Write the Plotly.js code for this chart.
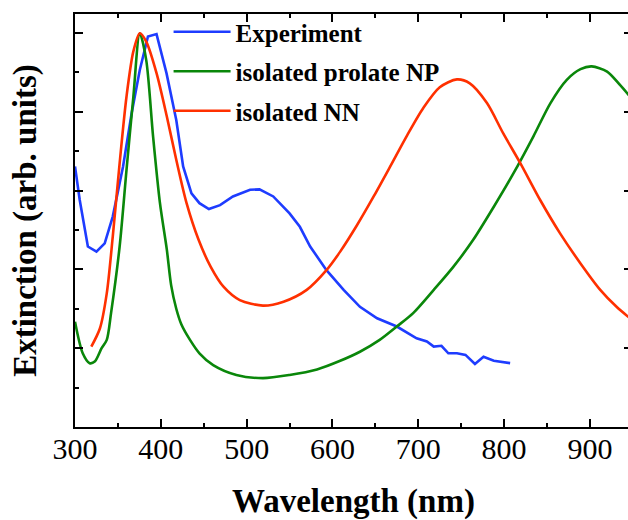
<!DOCTYPE html>
<html>
<head>
<meta charset="utf-8">
<script src="https://cdn.plot.ly/plotly-3.0.1.min.js"></script>
<style>
html,body{margin:0;padding:0;overflow:hidden;background:#fff;}
#chart{width:632px;height:520px;}
</style>
</head>
<body>
<div id="chart"></div>
<script>
// Experiment
const wlExp = [300, 305.5, 315, 325, 334.6, 344, 356, 366, 375.5, 385, 395, 406.6, 418, 426, 435.7, 445, 456, 469, 484, 504, 515, 531, 550, 562, 574, 593, 613, 632, 652, 675, 698, 710, 718, 727, 735, 745, 755, 766, 776, 788, 807];
const extExp = [0.661, 0.576, 0.458, 0.445, 0.466, 0.534, 0.661, 0.796, 0.906, 0.991, 0.997, 0.898, 0.779, 0.661, 0.593, 0.568, 0.553, 0.563, 0.585, 0.602, 0.603, 0.585, 0.542, 0.508, 0.458, 0.398, 0.348, 0.305, 0.276, 0.255, 0.225, 0.217, 0.204, 0.206, 0.187, 0.187, 0.183, 0.16, 0.178, 0.168, 0.162];
// isolated prolate NP
const wlNP = [300, 309, 317, 323, 331, 337, 342, 352, 360, 368, 375.5, 383, 391, 399, 407, 412, 418, 424, 434, 445, 461, 488, 519, 550, 582, 609, 632, 655, 675, 694, 718, 741, 764, 788, 811, 834, 854, 873, 889, 902, 920, 935, 950];
const extNP = [0.267, 0.187, 0.162, 0.166, 0.2, 0.221, 0.289, 0.458, 0.652, 0.838, 0.999, 0.931, 0.737, 0.568, 0.45, 0.36, 0.3, 0.26, 0.221, 0.187, 0.157, 0.132, 0.124, 0.132, 0.146, 0.168, 0.191, 0.221, 0.255, 0.289, 0.348, 0.407, 0.475, 0.559, 0.644, 0.737, 0.822, 0.881, 0.908, 0.915, 0.902, 0.868, 0.83];
// isolated NN
const wlNN = [319, 329, 337, 344, 352, 360, 368, 375.5, 383, 395, 407, 418, 430, 444, 458, 473, 492, 519, 543, 570, 593, 609, 628, 648, 667, 687, 706, 725, 745, 760, 780, 799, 819, 842, 865, 889, 912, 931, 950];
const extNN = [0.204, 0.25, 0.339, 0.483, 0.669, 0.838, 0.953, 0.999, 0.978, 0.898, 0.788, 0.678, 0.568, 0.475, 0.407, 0.356, 0.322, 0.308, 0.318, 0.348, 0.398, 0.445, 0.51, 0.585, 0.66, 0.74, 0.81, 0.862, 0.882, 0.872, 0.822, 0.745, 0.669, 0.576, 0.492, 0.415, 0.348, 0.305, 0.27];

const seriesNames = ['Experiment', 'isolated prolate NP', 'isolated NN'];
const xTickVals = [300, 400, 500, 600, 700, 800, 900];
const xTickText = ['300', '400', '500', '600', '700', '800', '900'];

const serif = 'Liberation Serif, Times New Roman, serif';

const traces = [
  {x: wlExp, y: extExp, name: seriesNames[0], legendgroup: 'a', mode: 'lines',
   line: {color: '#1e3cff', width: 2.6}},
  {x: wlNP, y: extNP, name: seriesNames[1], legendgroup: 'b', mode: 'lines',
   line: {color: '#0a870a', width: 2.6, shape: 'spline', smoothing: 0.8}},
  {x: wlNN, y: extNN, name: seriesNames[2], legendgroup: 'c', mode: 'lines',
   line: {color: '#ff3000', width: 2.6, shape: 'spline', smoothing: 0.8}}
];

const layout = {
  width: 632, height: 520,
  margin: {l: 75, r: 0, t: 14, b: 93},
  paper_bgcolor: '#fff', plot_bgcolor: '#fff',
  font: {family: serif, color: '#000'},
  showlegend: true,
  legend: {
    x: 0.168, y: 1.012, xanchor: 'left', yanchor: 'top',
    bgcolor: 'rgba(0,0,0,0)', borderwidth: 0,
    font: {family: serif, size: 25, color: '#000', weight: 'bold'},
    traceorder: 'grouped', tracegroupgap: 4, itemwidth: 57
  },
  xaxis: {
    range: [300, 949], showgrid: false, zeroline: false,
    showline: true, linecolor: '#000', linewidth: 2, mirror: 'ticks',
    ticks: 'inside', ticklen: 8, tickwidth: 2, tickcolor: '#000',
    tickmode: 'array', tickvals: xTickVals, ticktext: xTickText,
    minor: {dtick: 50, tick0: 0, ticks: 'inside', ticklen: 4, tickwidth: 2, tickcolor: '#000', showgrid: false},
    tickfont: {family: serif, size: 30, color: '#000'},
    ticklabelstandoff: -6,
    title: {text: 'Wavelength (nm)', font: {family: serif, size: 33, color: '#000', weight: 'bold'}, standoff: 41}
  },
  yaxis: {
    range: [0, 1.048], showgrid: false, zeroline: false,
    showline: true, linecolor: '#000', linewidth: 2, mirror: 'ticks',
    ticks: 'inside', ticklen: 8, tickwidth: 2, tickcolor: '#000',
    dtick: 0.2, tick0: 0, showticklabels: false,
    minor: {dtick: 0.1, tick0: 0, ticks: 'inside', ticklen: 4, tickwidth: 2, tickcolor: '#000', showgrid: false},
    title: {text: 'Extinction (arb. units)', font: {family: serif, size: 33, color: '#000', weight: 'bold'}, standoff: 26}
  }
};

Plotly.newPlot('chart', traces, layout, {staticPlot: true, displayModeBar: false});
</script>
</body>
</html>
